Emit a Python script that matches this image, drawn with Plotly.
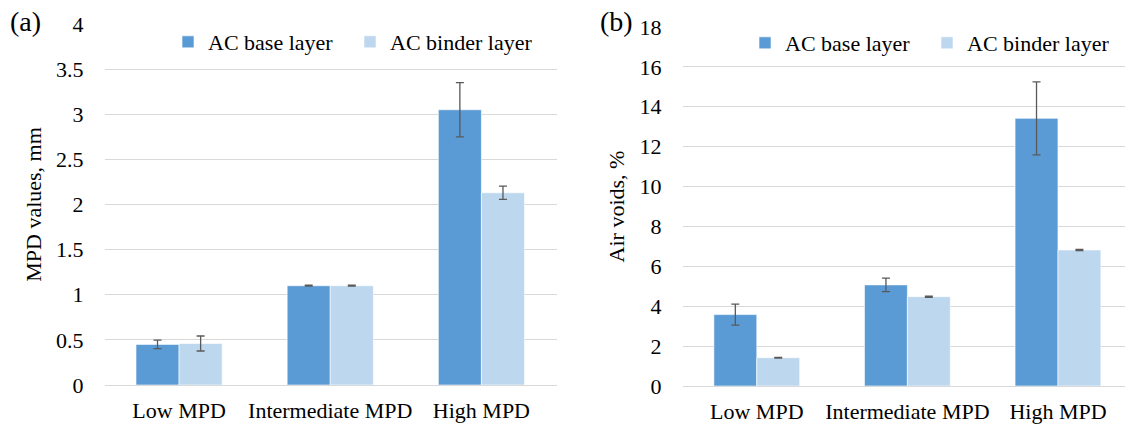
import plotly.graph_objects as go

categories = ["Low MPD", "Intermediate MPD", "High MPD"]
series_names = ["AC base layer", "AC binder layer"]

mpd_base = [0.45, 1.10, 3.05]
mpd_base_err = [0.047, 0.005, 0.30]
mpd_binder = [0.46, 1.10, 2.13]
mpd_binder_err = [0.083, 0.005, 0.074]

av_base = [3.58, 5.07, 13.42]
av_base_err = [0.53, 0.34, 1.83]
av_binder = [1.42, 4.48, 6.82]
av_binder_err = [0.02, 0.03, 0.03]

left_ticks = [0, 0.5, 1, 1.5, 2, 2.5, 3, 3.5, 4]
right_ticks = [0, 2, 4, 6, 8, 10, 12, 14, 16, 18]

C_BASE = "#5B9BD5"
C_BINDER = "#BDD7EE"
EB = "#595959"
GRID = "#D9D9D9"
FONT = "Liberation Serif, Times New Roman, serif"
FS = 22

W, H = 1125, 426

fig = go.Figure()

def add_bar(x, y, err, name, color, xa, ya, legend, show):
    fig.add_trace(go.Bar(
        x=x, y=y, name=name, xaxis=xa, yaxis=ya, legend=legend,
        showlegend=show,
        marker=dict(color=color, line=dict(color="rgba(255,255,255,0.6)", width=1)),
        error_y=dict(type="data", array=err, visible=True, color=EB, thickness=1.3, width=4),
    ))

add_bar(categories, mpd_base, mpd_base_err, series_names[0], C_BASE, "x", "y", "legend", True)
add_bar(categories, mpd_binder, mpd_binder_err, series_names[1], C_BINDER, "x", "y", "legend", True)
add_bar(categories, av_base, av_base_err, series_names[0], C_BASE, "x2", "y2", "legend2", True)
add_bar(categories, av_binder, av_binder_err, series_names[1], C_BINDER, "x2", "y2", "legend2", True)

def px_x(p):
    return p / W

def px_y(p):
    return 1 - p / H

xcommon = dict(type="category", showgrid=False, showline=True, linecolor=GRID, linewidth=1,
               ticks="outside", ticklen=6, tickcolor="rgba(0,0,0,0)",
               tickfont=dict(family=FONT, size=FS, color="black"), automargin=False)
ycommon = dict(showgrid=True, gridcolor=GRID, gridwidth=1, zeroline=False, showline=False,
               ticks="outside", ticklen=16, tickcolor="rgba(0,0,0,0)",
               tickfont=dict(family=FONT, size=FS, color="black"), automargin=False)

fig.update_layout(
    width=W, height=H,
    margin=dict(l=0, r=0, t=0, b=0),
    paper_bgcolor="white", plot_bgcolor="white",
    barmode="group", bargap=0.43, bargroupgap=0,
    font=dict(family=FONT, size=FS, color="black"),
    xaxis=dict(domain=[px_x(105), px_x(557)], range=[-0.49, 2.5], anchor="y", **xcommon),
    yaxis=dict(domain=[px_y(385), px_y(24)], range=[0, 4], tickvals=left_ticks,
               ticktext=[f"{v:g}" for v in left_ticks], anchor="x",
               title=dict(text="MPD values, mm", font=dict(family=FONT, size=FS), standoff=8),
               **ycommon),
    xaxis2=dict(domain=[px_x(683), px_x(1125)], range=[-0.49, 2.445], anchor="y2", **xcommon),
    yaxis2=dict(domain=[px_y(386), px_y(27)], range=[0, 18], tickvals=right_ticks, anchor="x2",
                title=dict(text="Air voids, %", font=dict(family=FONT, size=FS), standoff=8),
                **ycommon),
    legend=dict(orientation="h", x=px_x(168), y=px_y(42), xanchor="left", yanchor="middle",
                font=dict(family=FONT, size=FS), bgcolor="rgba(0,0,0,0)", itemwidth=30,
                entrywidth=137, entrywidthmode="pixels", traceorder="normal"),
    legend2=dict(orientation="h", x=px_x(745), y=px_y(43), xanchor="left", yanchor="middle",
                 font=dict(family=FONT, size=FS), bgcolor="rgba(0,0,0,0)", itemwidth=30,
                 entrywidth=137, entrywidthmode="pixels", traceorder="normal"),
    annotations=[
        dict(text="(a)", x=px_x(8), y=px_y(22), xref="paper", yref="paper", xanchor="left",
             yanchor="middle", showarrow=False, font=dict(family=FONT, size=28)),
        dict(text="(b)", x=px_x(598), y=px_y(22), xref="paper", yref="paper", xanchor="left",
             yanchor="middle", showarrow=False, font=dict(family=FONT, size=28)),
    ],
)

fig.write_html("out.html", config={"displayModeBar": False},
               post_script="document.body.style.margin='0';document.body.style.padding='0';")
